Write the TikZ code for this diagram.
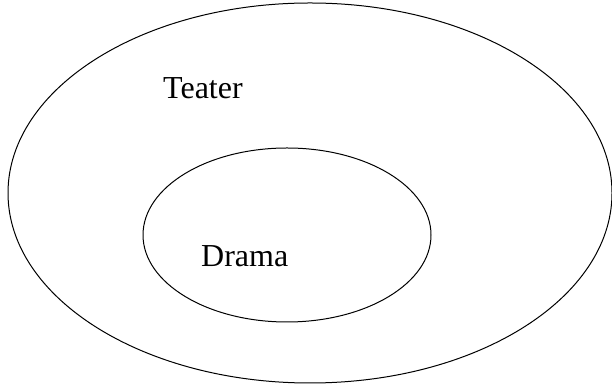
\documentclass[tikz,border=0pt]{standalone}
\usepackage{fontspec}
\setmainfont{Liberation Serif}
\usepackage{tikz}
\usetikzlibrary{positioning}

\begin{document}
\begin{tikzpicture}[
            x=1pt, y=1pt,
            set/.style={line width=1pt, draw=black},
            setlabel/.style={anchor=base west, inner sep=0pt, font=\fontsize{32}{38}\selectfont}
        ]
        \useasboundingbox (0,0) rectangle (612,387);
        
        % Outer set
        \draw[set] (310,194) ellipse [x radius=302, y radius=190];
        
        % Inner set
        \draw[set] (287,152) ellipse [x radius=144, y radius=87];
        
        % Labels
        \node[setlabel] (teater) at (163,288) {Teater};
        \node[setlabel] (drama) at (201,120) {Drama};
        
        \end{tikzpicture}
\end{document}
